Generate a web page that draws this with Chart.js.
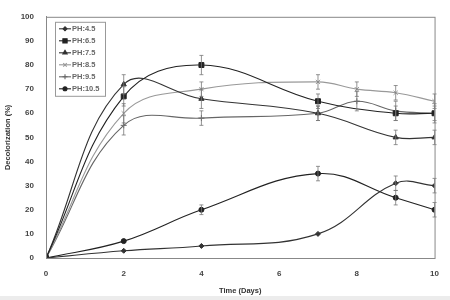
<!DOCTYPE html>
<html>
<head>
<meta charset="utf-8">
<script src="https://cdn.jsdelivr.net/npm/chart.js@4"></script>
<style>
  html, body { margin:0; padding:0; background:#ececec; }
  #wrap { width:450px; height:296px; background:#fff; }
</style>
</head>
<body>
<div id="wrap"><canvas id="myChart" width="450" height="296"></canvas></div>
<script>
// data (days on x, decolorization % on y)
var days = [0, 2, 4, 7, 8, 9, 10];
var labelsPH = ['PH:4.5', 'PH:6.5', 'PH:7.5', 'PH:8.5', 'PH:9.5', 'PH:10.5'];
var ph45  = [0, 3, 5, 10, null, 31, 30];
var ph65  = [0, 67, 80, 65, null, 60, 60];
var ph75  = [0, 72, 66, 60, null, 50, 50];
var ph85  = [0, 60, 70, 73, 70, 68.5, 65];
var ph95  = [0, 55, 58, 60, 65, 61, 60];
var ph105 = [0, 7, 20, 35, null, 25, 20];
var err45  = [0, 0, 0, 0, null, 3, 3];
var err65  = [0, 4, 4, 3, null, 3, 3];
var err75  = [0, 4, 4, 3, null, 3, 3];
var err85  = [0, 4, 3, 3, 3, 3, 3];
var err95  = [0, 4, 3, 3, 4, 4, 4];
var err105 = [0, 0, 2, 3, null, 3, 3];
var yTicks = [0, 10, 20, 30, 40, 50, 60, 70, 80, 90, 100];

var allVals = [ph45, ph65, ph75, ph85, ph95, ph105];
var allErr = [err45, err65, err75, err85, err95, err105];
var markers = ['rectRot', 'rect', 'triangle', 'crossRot', 'cross', 'circle'];
var sizes = [2.5, 3.5, 3, 3, 3, 2.5];
var colors = ['#333', '#222', '#333', '#999', '#666', '#222'];

function toPoints(vals) {
    var pts = [];
    for (var i = 0; i < days.length; ++i) {
        if (vals[i] != null) pts.push({x: days[i], y: vals[i]});
    }
    return pts;
}
function toErr(vals, errs) {
    var out = [];
    for (var i = 0; i < days.length; ++i) {
        if (vals[i] != null) out.push(errs[i]);
    }
    return out;
}

var datasets = [];
for (var k = 0; k < allVals.length; ++k) {
    datasets.push({
        label: labelsPH[k],
        data: toPoints(allVals[k]),
        errors: toErr(allVals[k], allErr[k]),
        borderColor: colors[k],
        backgroundColor: colors[k],
        borderWidth: 1.1,
        pointStyle: markers[k],
        pointRadius: sizes[k],
        pointBorderWidth: 1,
        tension: 0.4,
        fill: false
    });
}

// error bars + frame + in-plot legend
var extras = {
    id: 'extras',
    afterDatasetsDraw: function(chart) {
        var ctx = chart.ctx;
        var ys = chart.scales.y, xs = chart.scales.x;
        ctx.save();
        ctx.strokeStyle = '#777';
        ctx.lineWidth = 0.8;
        chart.data.datasets.forEach(function(ds) {
            ds.data.forEach(function(p, i) {
                var e = ds.errors[i];
                if (!e) return;
                var px = xs.getPixelForValue(p.x);
                var y1 = ys.getPixelForValue(p.y + e), y2 = ys.getPixelForValue(p.y - e);
                ctx.beginPath();
                ctx.moveTo(px, y1); ctx.lineTo(px, y2);
                ctx.moveTo(px - 2, y1); ctx.lineTo(px + 2, y1);
                ctx.moveTo(px - 2, y2); ctx.lineTo(px + 2, y2);
                ctx.stroke();
            });
        });
        // frame
        var a = chart.chartArea;
        ctx.strokeStyle = '#888';
        ctx.lineWidth = 1;
        ctx.strokeRect(a.left + 0.5, a.top + 0.5, a.right - a.left, a.bottom - a.top);
        // legend
        var lx = a.left + 9, ly = a.top + 5;
        ctx.fillStyle = '#fff';
        ctx.fillRect(lx, ly, 50, 74);
        ctx.strokeStyle = '#999';
        ctx.strokeRect(lx + 0.5, ly + 0.5, 50, 74);
        ctx.font = 'bold 7.5px "Liberation Sans", Arial, sans-serif';
        ctx.textBaseline = 'middle';
        chart.data.datasets.forEach(function(ds, i) {
            var cy = ly + 7 + i * 12;
            ctx.strokeStyle = ds.borderColor;
            ctx.fillStyle = ds.backgroundColor;
            ctx.lineWidth = 1.1;
            ctx.beginPath();
            ctx.moveTo(lx + 4, cy); ctx.lineTo(lx + 16, cy);
            ctx.stroke();
            Chart.helpers.drawPoint(ctx, {
                pointStyle: ds.pointStyle, radius: ds.pointRadius - 0.5, borderWidth: 1
            }, lx + 10, cy);
            ctx.fillStyle = '#666';
            ctx.fillText(ds.label, lx + 17, cy + 0.5);
        });
        ctx.restore();
    }
};

var tickFont = {family: '"Liberation Sans", Arial, sans-serif', size: 8, weight: 'bold'};
var titleFont = {family: '"Liberation Sans", Arial, sans-serif', size: 7.5, weight: 'bold'};

var chart = new Chart(document.getElementById('myChart').getContext('2d'), {
    type: 'line',
    data: { datasets: datasets },
    options: {
        responsive: false,
        animation: false,
        layout: { padding: { top: 5, right: 14, left: 0, bottom: 0 } },
        plugins: { legend: { display: false }, tooltip: { enabled: false } },
        scales: {
            x: {
                type: 'linear',
                min: 0, max: 10,
                afterFit: function(s) { s.height = 38; },
                ticks: { stepSize: 2, padding: 11, color: '#444', font: tickFont },
                grid: { display: false, drawTicks: false },
                border: { color: '#888' },
                title: { display: true, text: 'Time (Days)', color: '#333', font: titleFont,
                         padding: {top: 0, bottom: 1} }
            },
            y: {
                min: 0, max: 100,
                afterFit: function(s) { s.width = 46; },
                afterBuildTicks: function(s) { s.ticks = yTicks.map(function(v) { return {value: v}; }); },
                ticks: { padding: 12, color: '#444', font: tickFont },
                grid: { display: false, drawTicks: false },
                border: { color: '#888' },
                title: { display: true, text: 'Decolorization (%)', color: '#333', font: titleFont,
                         padding: {top: 3, bottom: 0} }
            }
        }
    },
    plugins: [extras]
});
</script>
</body>
</html>
